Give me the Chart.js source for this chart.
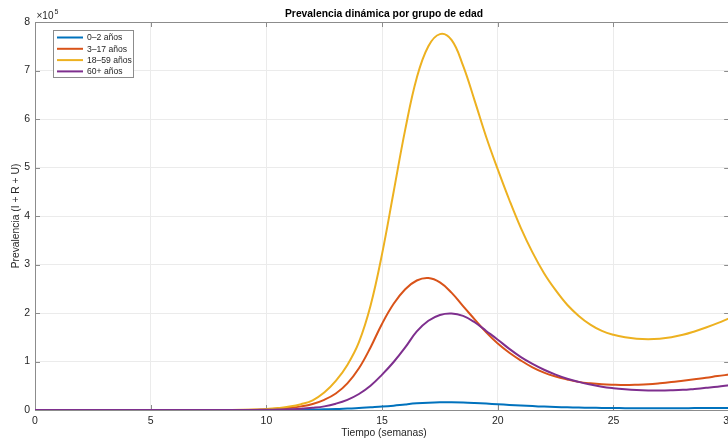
<!DOCTYPE html>
<html>
<head>
<meta charset="utf-8">
<title>Prevalencia dinámica por grupo de edad</title>
<script src="https://cdn.jsdelivr.net/npm/chart.js@4.4.1/dist/chart.umd.min.js"></script>
<style>
  html, body { margin: 0; padding: 0; background: #fff; overflow: hidden; }
  #wrap { width: 740px; height: 439px; }
</style>
</head>
<body>
<div id="wrap"><canvas id="chart" width="740" height="439"></canvas></div>
<script>
// time in weeks, prevalence in units of 10^5
const semanas = [0, 1, 2, 3, 4, 5, 6, 7, 8, 9, 9.5, 10, 10.5, 11, 11.5, 12, 12.5, 13, 13.5, 14, 14.5,
  15, 15.5, 16, 16.5, 17, 17.5, 18, 18.5, 19, 19.5, 20, 20.5, 21, 21.5, 22, 22.5, 23, 23.5,
  24, 24.5, 25, 25.5, 26, 26.5, 27, 27.5, 28, 28.5, 29, 29.5, 30]

const grupos = ['0–2 años', '3–17 años', '18–59 años', '60+ años']
const colores = ['#0072BD', '#D95319', '#EDB120', '#7E2F8E']

const edad0a2 = [0, 0, 0, 0, 0, 0, 0, 0, 0, 0, 0, 0.001, 0.003, 0.005, 0.007, 0.01, 0.015, 0.02, 0.03, 0.04, 0.055,
  0.07, 0.09, 0.115, 0.137, 0.152, 0.16, 0.16, 0.155, 0.145, 0.132, 0.12, 0.105, 0.092, 0.08, 0.07, 0.062, 0.055, 0.05,
  0.046, 0.042, 0.04, 0.038, 0.037, 0.037, 0.037, 0.038, 0.038, 0.039, 0.04, 0.041, 0.042]

const edad3a17 = [0, 0, 0, 0, 0, 0, 0, 0, 0, 0.002, 0.005, 0.012, 0.025, 0.045, 0.075, 0.125, 0.21, 0.34, 0.55, 0.86, 1.29,
  1.78, 2.19, 2.49, 2.67, 2.72, 2.63, 2.42, 2.14, 1.87, 1.6, 1.37, 1.18, 1.02, 0.88, 0.77, 0.69, 0.63, 0.58,
  0.55, 0.53, 0.52, 0.515, 0.52, 0.53, 0.55, 0.575, 0.605, 0.635, 0.665, 0.7, 0.73]

const edad18a59 = [0, 0, 0, 0, 0, 0, 0, 0, 0, 0.004, 0.01, 0.02, 0.04, 0.07, 0.12, 0.2, 0.36, 0.6, 0.93, 1.4, 2.15,
  3.22, 4.5, 5.78, 6.85, 7.5, 7.75, 7.63, 7.1, 6.38, 5.63, 4.96, 4.33, 3.75, 3.25, 2.82, 2.47, 2.17, 1.94,
  1.76, 1.63, 1.55, 1.5, 1.47, 1.46, 1.47, 1.5, 1.55, 1.62, 1.7, 1.79, 1.89]

const edad60mas = [0, 0, 0, 0, 0, 0, 0, 0, 0, 0, 0.002, 0.004, 0.008, 0.015, 0.025, 0.045, 0.075, 0.13, 0.21, 0.33, 0.5,
  0.73, 0.99, 1.29, 1.62, 1.84, 1.96, 1.99, 1.94, 1.81, 1.63, 1.45, 1.26, 1.09, 0.95, 0.83, 0.73, 0.645, 0.58,
  0.525, 0.48, 0.45, 0.428, 0.412, 0.403, 0.4, 0.405, 0.415, 0.435, 0.457, 0.48, 0.51]

const series = [edad0a2, edad3a17, edad18a59, edad60mas]

const FONT = "'Liberation Sans', Arial, Helvetica, sans-serif"
const AXIS = '#8c8c8c'
const TEXT = '#262626'

// MATLAB-like frame: inward ticks on all four sides plus top/right box
const framePlugin = {
  id: 'frame',
  beforeDatasetsDraw(chart) {
    const { ctx, chartArea: a, scales } = chart
    ctx.save()
    ctx.strokeStyle = AXIS
    ctx.lineWidth = 1
    ctx.beginPath()
    ctx.moveTo(a.left, a.top + 0.5)
    ctx.lineTo(a.right, a.top + 0.5)
    ctx.moveTo(a.right - 0.5, a.top)
    ctx.lineTo(a.right - 0.5, a.bottom)
    scales.x.ticks.forEach(t => {
      const px = Math.round(scales.x.getPixelForValue(t.value)) + 0.5
      ctx.moveTo(px, a.bottom); ctx.lineTo(px, a.bottom - 5)
      ctx.moveTo(px, a.top); ctx.lineTo(px, a.top + 5)
    })
    scales.y.ticks.forEach(t => {
      const py = Math.round(scales.y.getPixelForValue(t.value)) + 0.5
      ctx.moveTo(a.left, py); ctx.lineTo(a.left + 5, py)
      ctx.moveTo(a.right, py); ctx.lineTo(a.right - 5, py)
    })
    ctx.stroke()
    ctx.restore()
  },
  afterDraw(chart) {
    const { ctx } = chart
    const cx = 384
    ctx.save()
    ctx.fillStyle = '#000'
    ctx.textAlign = 'center'
    ctx.textBaseline = 'middle'
    ctx.font = 'bold 10.3px ' + FONT
    ctx.fillText('Prevalencia dinámica por grupo de edad', cx, 14)

    ctx.fillStyle = TEXT
    ctx.font = '10.3px ' + FONT
    ctx.fillText('Tiempo (semanas)', cx, 433)

    ctx.save()
    ctx.translate(16, 216)
    ctx.rotate(-Math.PI / 2)
    ctx.fillText('Prevalencia (I + R + U)', 0, 0)
    ctx.restore()

    // exponent label of the y axis
    ctx.textAlign = 'left'
    ctx.font = '10px ' + FONT
    ctx.fillText('×10', 36.5, 16.5)
    ctx.font = '7px ' + FONT
    ctx.fillText('5', 54.5, 12.5)

    // legend box in the upper left of the plot
    const bx = 53.5, by = 30.5, bw = 80, bh = 47
    ctx.fillStyle = '#fff'
    ctx.fillRect(bx, by, bw, bh)
    ctx.strokeStyle = '#8c8c8c'
    ctx.lineWidth = 1
    ctx.strokeRect(bx, by, bw, bh)
    ctx.font = '8.6px ' + FONT
    grupos.forEach((g, i) => {
      const y = 37.5 + i * 11.3
      ctx.strokeStyle = colores[i]
      ctx.lineWidth = 2
      ctx.beginPath()
      ctx.moveTo(57, y)
      ctx.lineTo(83, y)
      ctx.stroke()
      ctx.fillStyle = TEXT
      ctx.fillText(g, 87, y + 0.5)
    })
    ctx.restore()
  }
}

new Chart(document.getElementById('chart'), {
  type: 'line',
  data: {
    datasets: grupos.map((g, i) => ({
      label: g,
      data: semanas.map((t, j) => ({ x: t, y: series[i][j] })),
      borderColor: colores[i],
      borderWidth: 2,
      pointRadius: 0,
      tension: 0.4,
      order: 3 - i
    }))
  },
  options: {
    responsive: false,
    animation: false,
    events: [],
    layout: { padding: { top: 22, right: 9, left: 0, bottom: 0 } },
    plugins: {
      legend: { display: false },
      title: { display: false },
      tooltip: { enabled: false }
    },
    scales: {
      x: {
        type: 'linear',
        min: 0,
        max: 30,
        afterFit: s => { s.height = 29 },
        ticks: {
          stepSize: 5,
          autoSkip: false,
          maxRotation: 0,
          padding: 5,
          color: TEXT,
          font: { family: FONT, size: 10.5 }
        },
        grid: { color: '#ebebeb', drawTicks: false },
        border: { color: AXIS }
      },
      y: {
        min: 0,
        max: 8,
        afterFit: s => { s.width = 35 },
        ticks: {
          stepSize: 1,
          padding: 5,
          color: TEXT,
          font: { family: FONT, size: 10.5 }
        },
        grid: { color: '#ebebeb', drawTicks: false },
        border: { color: AXIS }
      }
    }
  },
  plugins: [framePlugin]
})
</script>
</body>
</html>
